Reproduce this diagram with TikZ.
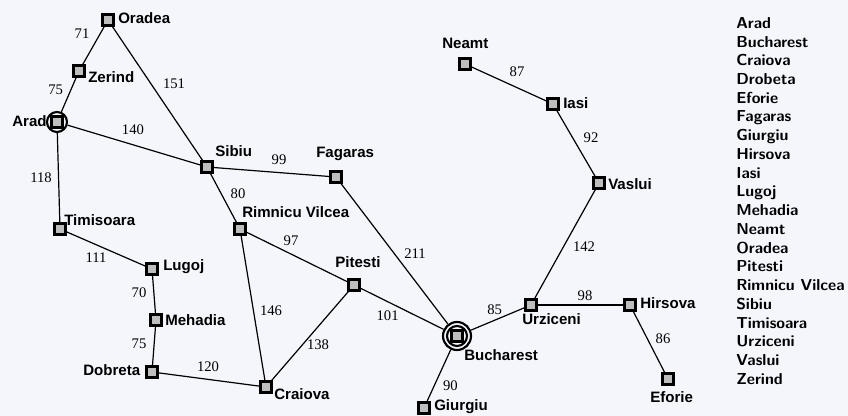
\documentclass[tikz,border=0pt]{standalone}
\usepackage{fontspec}
\newfontfamily\cityfont{Liberation Sans}
\newfontfamily\roadfont{Liberation Serif}
\definecolor{pagebg}{HTML}{F4F6FC}
\definecolor{cityfill}{HTML}{BEBEBE}
\tikzset{
  city/.style={draw=black, line width=2.1pt, fill=cityfill, rectangle, minimum size=8pt, inner sep=0pt},
  ring/.style={draw=black, line width=1.6pt, circle, inner sep=0pt},
  cityname/.style={font=\cityfont\bfseries\fontsize{11.3}{12}\selectfont, inner sep=0pt, anchor=west},
  road/.style={black, line width=0.9pt},
  dist/.style={font=\roadfont\fontsize{11}{12}\selectfont, inner sep=0pt, midway}
}
\begin{document}
\begin{tikzpicture}[x=0.75pt, y=-0.75pt]
  \useasboundingbox (0,0) rectangle (848,416);
  \fill[pagebg] (0,0) rectangle (848,416);
  % cities
  \node[city] (oradea) at (108,20){};
  \node[city] (zerind) at (79,71){};
  \node[ring, minimum size=15pt] (aradR) at (57,122){};
  \node[city] (arad) at (57,122){};
  \node[city] (timisoara) at (60,229){};
  \node[city] (lugoj) at (152,269){};
  \node[city] (mehadia) at (156,320){};
  \node[city] (dobreta) at (152,372){};
  \node[city] (craiova) at (266,387){};
  \node[city] (rimnicu) at (240,229){};
  \node[city] (sibiu) at (207,167){};
  \node[city] (fagaras) at (336,177){};
  \node[city] (pitesti) at (354,285){};
  \node[ring, minimum size=15pt] (bucharestI) at (457,336){};
  \node[ring, minimum size=21pt] (bucharestR) at (457,336){};
  \node[city] (bucharest) at (457,336){};
  \node[city] (giurgiu) at (424,408){};
  \node[city] (urziceni) at (531,305){};
  \node[city] (hirsova) at (630,305){};
  \node[city] (eforie) at (668,379){};
  \node[city] (vaslui) at (599,183){};
  \node[city] (iasi) at (553,104){};
  \node[city] (neamt) at (465,64){};
  % roads
  \draw[road] (oradea) -- node[dist, shift={(-11.5,-11.5)}]{71} (zerind);
  \draw[road] (zerind) -- node[dist, shift={(-13,-5.5)}]{75} (aradR);
  \draw[road] (oradea) -- node[dist, shift={(16.5,-9.5)}]{151} (sibiu);
  \draw[road] (aradR) -- node[dist, shift={(-1,-15.5)}]{140} (sibiu);
  \draw[road] (aradR) -- node[dist, shift={(-17.5,0.5)}]{118} (timisoara);
  \draw[road] (sibiu) -- node[dist, shift={(7.5,-12)}]{99} (fagaras);
  \draw[road] (sibiu) -- node[dist, shift={(14.5,-4)}]{80} (rimnicu);
  \draw[road] (rimnicu) -- node[dist, shift={(-6,-16)}]{97} (pitesti);
  \draw[road] (rimnicu) -- node[dist, shift={(18,3)}]{146} (craiova);
  \draw[road] (pitesti) -- node[dist, shift={(8,9)}]{138} (craiova);
  \draw[road] (pitesti) -- node[dist, shift={(-14.5,6.5)}]{101} (bucharestR);
  \draw[road] (fagaras) -- node[dist, shift={(20.5,-0.5)}]{211} (bucharestR);
  \draw[road] (bucharestR) -- node[dist, shift={(-3,-9.5)}]{85} (urziceni);
  \draw[road] (bucharestR) -- node[dist, shift={(11.5,10)}]{90} (giurgiu);
  \draw[road] (urziceni) -- node[dist, shift={(4.5,-9)}]{98} (hirsova);
  \draw[road] (hirsova) -- node[dist, shift={(14,-3)}]{86} (eforie);
  \draw[road] (timisoara) -- node[dist, shift={(-10,9)}]{111} (lugoj);
  \draw[road] (lugoj) -- node[dist, shift={(-15,-1.5)}]{70} (mehadia);
  \draw[road] (mehadia) -- node[dist, shift={(-15,-2)}]{75} (dobreta);
  \draw[road] (dobreta) -- node[dist, shift={(-1,-12.5)}]{120} (craiova);
  \draw[road] (neamt) -- node[dist, shift={(8,-12)}]{87} (iasi);
  \draw[road] (iasi) -- node[dist, shift={(15,-5.5)}]{92} (vaslui);
  \draw[road] (vaslui) -- node[dist, shift={(19,3)}]{142} (urziceni);
  % names
  \node[cityname] (oradeaT) at (118,18){Oradea};
  \node[cityname] (zerindT) at (88,77){Zerind};
  \node[cityname] (aradT) at (12,121){Arad};
  \node[cityname] (sibiuT) at (215,151){Sibiu};
  \node[cityname] (fagarasT) at (316,154){Fagaras};
  \node[cityname] (rimnicuT) at (242,212){Rimnicu Vilcea};
  \node[cityname] (pitestiT) at (335,262){Pitesti};
  \node[cityname] (timisoaraT) at (64,220){Timisoara};
  \node[cityname] (lugojT) at (163,267){Lugoj};
  \node[cityname] (mehadiaT) at (165,320){Mehadia};
  \node[cityname] (dobretaT) at (83,370){Dobreta};
  \node[cityname] (craiovaT) at (274,394){Craiova};
  \node[cityname] (bucharestT) at (464,355){Bucharest};
  \node[cityname] (urziceniT) at (522,319){Urziceni};
  \node[cityname] (giurgiuT) at (434,407){Giurgiu};
  \node[cityname] (hirsovaT) at (640,303){Hirsova};
  \node[cityname] (eforieT) at (650,397){Eforie};
  \node[cityname] (vasluiT) at (608,184){Vaslui};
  \node[cityname] (iasiT) at (563,103){Iasi};
  \node[cityname] (neamtT) at (442,43){Neamt};
  % list on the right
  \node[align=left, anchor=north west, inner sep=0pt, font=\sffamily\bfseries\fontsize{11.9}{14.05}\selectfont] (cities) at (736,17){Arad\\Bucharest\\Craiova\\Drobeta\\Eforie\\Fagaras\\Giurgiu\\Hirsova\\Iasi\\Lugoj\\Mehadia\\Neamt\\Oradea\\Pitesti\\Rimnicu Vilcea\\Sibiu\\Timisoara\\Urziceni\\Vaslui\\Zerind};
\end{tikzpicture}
\end{document}
